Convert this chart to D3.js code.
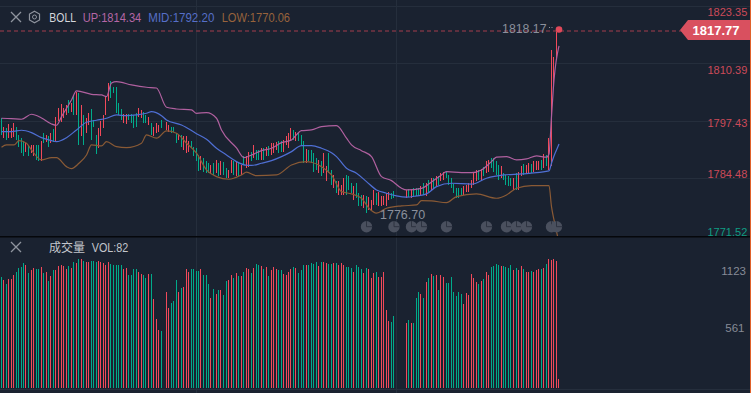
<!DOCTYPE html>
<html>
<head>
<meta charset="utf-8">
<script src="https://d3js.org/d3.v7.min.js"></script>
<style>
  html, body { margin: 0; padding: 0; background: #1a2230; overflow: hidden; }
  svg { display: block; font-family: "Liberation Sans", Arial, sans-serif; }
</style>
</head>
<body>
<svg id="chart" width="751" height="393"></svg>
<script>
// candle range per bar (null = no bar drawn)
const candleHigh = [
  1798.0,1796.1,1795.8,1796.7,1795.9,1797.0,1796.1,1794.3,1793.5,1792.8,
  1792.4,1792.0,1792.0,1792.0,1791.9,1791.9,1792.9,1794.6,1794.3,1793.9,
  1794.6,1795.5,1798.4,1800.3,1801.2,1800.3,1801.0,1802.1,1801.4,1803.3,
  1804.0,1803.6,1801.0,1798.8,1798.0,1799.1,1800.1,1797.6,1794.3,1795.8,
  1797.3,1798.8,1802.7,1806.0,1806.3,1805.1,1805.1,1801.4,1800.1,1799.0,
  1798.9,1799.0,1799.0,1798.8,1799.1,1800.3,1799.9,1799.4,1798.8,1798.4,
  1796.9,1796.1,1796.9,1796.5,1797.6,null,1797.1,1796.5,1796.1,1796.1,
  1794.6,1794.5,1794.3,1793.9,1793.9,1792.8,1792.8,1791.6,1791.3,1789.8,
  1789.4,1789.0,1788.3,1787.9,1787.5,1787.9,1788.6,1787.9,1788.3,1788.1,
  1786.8,1786.4,1788.6,1788.3,1788.3,1787.9,1787.5,1789.4,1789.4,1790.5,
  1790.5,1792.0,1790.9,1790.9,1791.3,1791.3,1791.6,1791.8,1792.4,1792.4,
  1792.6,1792.8,1792.9,1793.2,1793.9,1794.6,1795.8,1795.4,1794.8,1794.6,
  1794.3,1792.8,1791.1,1790.9,1790.9,1790.1,1789.0,1788.7,1788.3,1790.1,
  1787.2,1790.1,1786.4,1785.3,1783.8,1783.8,1783.0,1784.5,1785.3,1784.9,
  1783.4,1782.7,1783.4,1781.2,1780.8,1780.8,1780.4,1780.2,1779.7,1781.9,
  1781.2,1781.5,1780.5,1780.5,1781.2,1781.3,1781.2,1781.7,null,null,
  null,null,1781.9,1782.1,1782.1,1782.3,1782.3,1782.3,1782.7,1783.4,
  1783.4,1784.2,1784.5,1784.5,1784.9,1784.9,1785.6,1786.0,1785.8,1785.3,
  1784.5,1783.2,1782.3,1782.3,1782.3,1782.7,1783.0,1783.4,1784.2,1785.6,
  1786.3,1786.4,1786.6,1787.0,1788.3,1788.7,1789.0,1789.0,1788.3,1787.5,
  1787.2,1785.6,1785.3,1784.9,1784.5,1784.5,1785.6,1786.0,1787.2,1787.8,
  1787.5,1787.9,1787.8,1788.3,1788.3,1788.3,1788.7,1790.0,1789.8,1793.5,
  1813.3,1811.9,1818.17,1817.9
];
const candleLow = [
  1794.3,1793.5,1793.1,1793.5,1793.5,1793.7,1793.1,1791.6,1790.1,1789.6,
  1790.5,1789.4,1790.1,1789.4,1788.6,1788.3,1788.3,1792.4,1792.6,1791.6,
  1792.4,1792.6,1792.6,1797.3,1797.1,1798.0,1798.8,1799.1,1799.5,1798.8,
  1798.8,1792.0,1793.9,1792.0,1794.6,1796.5,1793.1,1796.1,1790.0,1791.3,
  1793.9,1795.8,1798.8,1801.8,1802.5,1803.6,1799.1,1798.8,1797.6,1796.9,
  1796.7,1797.6,1796.9,1795.8,1796.1,1798.4,1798.0,1796.9,1796.9,1796.4,
  1794.3,1793.9,1794.6,1795.0,1795.8,null,1795.4,1795.0,1794.6,1795.0,
  1792.4,1793.1,1791.6,1790.9,1790.1,1790.5,1791.3,1789.4,1788.3,1786.2,
  1786.4,1786.0,1785.6,1785.6,1785.6,1785.3,1785.6,1784.9,1785.3,1785.3,
  1784.5,1784.5,1785.6,1785.3,1784.9,1784.9,1785.3,1787.5,1786.8,1787.1,
  1788.3,1789.0,1788.6,1788.6,1788.6,1788.6,1789.4,1789.5,1789.8,1790.1,
  1790.9,1790.1,1790.5,1790.5,1792.0,1791.3,1793.2,1793.2,1792.9,1792.8,
  1792.0,1787.9,1787.9,1788.3,1787.9,1786.0,1786.4,1785.7,1784.9,1785.7,
  1783.8,1785.7,1783.0,1782.3,1781.2,1780.8,1780.8,1780.8,1780.8,1781.9,
  1781.2,1779.7,1780.0,1778.2,1778.2,1777.8,1776.7,1777.4,1777.4,1778.5,
  1778.5,1778.2,1778.3,1778.5,1778.2,1779.7,1779.8,1780.0,null,null,
  null,null,1780.0,1780.2,1780.0,1780.2,1780.4,1780.5,1780.8,1780.8,
  1780.4,1781.5,1781.9,1782.3,1782.7,1783.0,1783.8,1784.2,1784.5,1783.0,
  1782.3,1781.2,1780.0,1780.0,1780.4,1780.8,1781.5,1781.5,1782.3,1783.0,
  1783.8,1784.2,1784.2,1784.9,1785.6,1786.0,1786.8,1786.0,1785.3,1784.2,
  1784.5,1784.2,1783.0,1782.7,1782.7,1781.9,1781.9,1781.9,1784.9,1785.3,
  1785.6,1785.6,1785.6,1786.0,1786.4,1786.4,1786.4,1786.8,1787.2,1786.4,
  1787.2,1804.8,1811.2,1817.6
];
const volumes = [
  1054,1029,991,1038,1038,1076,1108,1143,1153,1191,
  1172,1095,1124,1143,1133,1133,1153,1095,1105,1019,
  1067,1124,1124,1162,1172,1162,1133,1162,1143,1200,
  1191,1229,1229,1210,1200,1200,1210,1210,1200,1210,
  1200,1191,1172,1200,1181,1172,1172,1172,1172,1133,
  1143,1076,1076,1133,1133,1105,1086,1076,1048,1086,
  1086,848,657,552,543,null,914,762,810,829,
  1029,914,953,962,1133,1105,1133,1133,1114,1114,
  1133,1076,1076,991,857,943,895,933,933,886,
  1019,1029,1076,1048,1095,1067,1067,1105,1143,1133,
  1095,1143,1181,1172,1162,1133,1153,1067,1124,1153,
  1133,1124,
  1121,1086,1076,1105,1133,1153,1143,1095,1124,1172,
  1172,1172,1191,1181,1200,1162,1200,1200,1191,1181,
  1181,1191,1191,1172,1191,1172,1153,1153,1143,1105,
  1172,1153,1133,1095,1143,1133,1048,1095,1105,1057,
  1057,1105,743,638,629,686,null,null,null,null,
  619,648,619,619,857,914,895,857,1010,1048,
  1086,1067,1076,933,1076,1057,1000,1000,1057,914,
  876,914,895,800,905,886,1086,1048,1010,991,
  1019,1038,1105,1076,1153,1162,1181,1172,1162,1162,
  1153,1143,1172,1124,1143,1124,1162,1133,1105,1105,
  1114,1105,1124,1133,1133,1143,1181,1229,1219,1229,
  1210,82
];
// r = up, g = down, . = no bar
const directions = (
  "grgrrrgggg" + "rgrrggrgrg" + "rgrrrrrgrg" + "rgrgrrgggr" + "rrrrgggggr" + "rggggrrggr" +
  "grrrg.rrgg" + "grgrrrgggg" + "rgggrgrgrg" + "grrgrgrgrr" + "grggrgrgrr" + "rg" +
  "grrrrgrggg" + "rggggrgrrg" + "grgrrrgggr" + "gggrgrrrgr" + "rrrrgg...." + "rgrgggrgrg" +
  "rgrgrrgggg" + "gggrrrrrrg" + "rgrrggggrg" + "gggrgrrgrr" + "grrrgrgrrr" + "rr"
).split("");

// bollinger bands: bar index and price at each reading
const upperAt = [0,4,8,12,16,20,22,24,28,30,36,40,42,44,46,52,58,62,66,70,76,78,82,86,88,94,97,100,104,108,112,116,120,124,128,134,138,140,144,148,152,156,160,162,168,172,176,178,184,188,192,196,198,202,206,210,214,218,219,220,221,223];
const upperBand = [1798.01,1797.92,1797.78,1798.91,1798.08,1796.72,1796.43,1798.37,1802.13,1804.16,1803.41,1803.26,1802.87,1805.96,1806.25,1805.51,1804.99,1804.83,1800.49,1800.10,1799.88,1799.13,1799.27,1798.01,1795.37,1791.32,1789.14,1789.74,1790.71,1791.25,1792.51,1793.12,1795.22,1795.37,1796.12,1796.34,1793.51,1792.0,1790.71,1789.36,1784.86,1783.96,1782.24,1781.86,1782.2,1783.66,1785.24,1785.98,1785.76,1785.76,1786.37,1788.24,1789.23,1789.36,1788.62,1788.85,1789.52,1789.23,1789.97,1798.37,1806.63,1814.34];
const midAt = [0,4,8,12,16,20,22,26,30,34,38,42,46,50,54,58,60,64,66,72,78,82,86,90,94,98,100,104,108,112,116,120,124,128,132,134,138,142,146,150,154,158,162,166,170,174,180,188,194,201,208,219,220,221,222,223];
const midBand = [1794.99,1794.99,1795.31,1794.77,1793.64,1792.96,1792.74,1793.64,1795.37,1797.11,1797.56,1798.01,1798.75,1798.59,1798.75,1799.13,1799.50,1798.59,1797.63,1796.50,1794.54,1793.28,1791.25,1789.74,1788.24,1787.42,1787.38,1787.87,1788.46,1789.36,1790.49,1791.84,1791.84,1791.25,1790.26,1789.36,1786.75,1785.62,1783.73,1781.86,1781.12,1780.51,1780.22,1780.51,1780.96,1782.61,1783.37,1783.15,1784.50,1785.24,1785.46,1786.14,1787.88,1789.52,1790.87,1792.20];
const lowerAt = [0,2,5,7,10,12,16,20,22,26,28,31,34,36,40,42,46,50,56,58,62,66,70,74,78,82,86,91,96,98,102,110,116,122,124,128,132,136,140,144,147,150,154,160,166,168,172,178,182,190,198,202,206,212,219,220,221,223];
const lowerBand = [1791.48,1792.0,1792.0,1792.96,1792.38,1790.87,1788.62,1789.14,1789.14,1787.11,1786.66,1787.87,1789.74,1792.0,1791.77,1792.74,1791.61,1791.39,1792.38,1794.25,1793.51,1795.15,1794.63,1792.38,1790.13,1786.37,1784.86,1784.27,1785.24,1785.85,1785.08,1785.24,1787.49,1788.23,1788.10,1787.11,1785.24,1781.48,1780.96,1779.99,1777.74,1776.62,1777.74,1778.26,1778.48,1779.45,1779.38,1779.0,1780.35,1780.96,1779.99,1780.73,1782.25,1782.83,1782.83,1778.10,1775.1,1770.06];

const priceTicks = [1823.35, 1810.39, 1797.43, 1784.48, 1771.52];
const priceTickColors = ["#cc4a59", "#cc4a59", "#cc4a59", "#cc4a59", "#0f9d83"];
const volTicks = [1123, 561];
const eventBars = [146, 157, 164, 168, 178, 194, 202, 206, 210, 220, 222];

const lastPrice = 1817.77, highPrice = 1818.17, lowPrice = 1776.70;
const lastBar = 223, highBar = 222, lowBar = 146;

const red = "#f2495a", green = "#00ab8a";
const gridColor = "#252e3c";

const svg = d3.select("#chart");

// scales ----------------------------------------------------------------------
const x = d3.scaleLinear().domain([0, 223]).range([1.5, 559]);
const y = d3.scaleLinear().domain([1810.39, 1784.48]).range([63.3, 178.3]);
const yVol = d3.scaleLinear().domain([0, 1123]).range([388, 270]);

const bars = candleHigh.map((h, i) => ({
  i, high: h, low: candleLow[i], vol: volumes[i], dir: directions[i]
}));
const barColor = d => d.dir === "r" ? red : green;

svg.append("defs").append("clipPath").attr("id", "pricePane")
  .append("rect").attr("width", 675).attr("height", 236);

// grid ------------------------------------------------------------------------
const grid = svg.append("g").attr("stroke", gridColor).attr("shape-rendering", "crispEdges");
grid.selectAll("line.h").data(priceTicks.slice(0, 4)).enter().append("line")
  .attr("x1", 0).attr("x2", 750)
  .attr("y1", d => Math.round(y(d))).attr("y2", d => Math.round(y(d)));
grid.selectAll("line.v").data([196.5, 396.5]).enter().append("line")
  .attr("x1", d => d).attr("x2", d => d).attr("y1", 0).attr("y2", 393);
grid.append("line").attr("x1", 0).attr("x2", 750).attr("y1", 389.5).attr("y2", 389.5);

// candles ---------------------------------------------------------------------
const plot = svg.append("g").attr("clip-path", "url(#pricePane)");
plot.append("g").attr("shape-rendering", "crispEdges")
  .selectAll("rect").data(bars.filter(d => d.high !== null)).enter().append("rect")
  .attr("x", d => Math.floor(x(d.i) - 0.5))
  .attr("width", 1)
  .attr("y", d => y(d.high))
  .attr("height", d => y(d.low) - y(d.high))
  .attr("fill", barColor);

// bands -----------------------------------------------------------------------
function drawBand(at, values, color) {
  const line = d3.line().x(d => x(d[0])).y(d => y(d[1])).curve(d3.curveMonotoneX);
  plot.append("path").datum(at.map((a, k) => [a, values[k]]))
    .attr("d", line).attr("fill", "none").attr("stroke", color).attr("stroke-width", 1.2);
}
drawBand(upperAt, upperBand, "#b0609f");
drawBand(midAt, midBand, "#4f6fd4");
drawBand(lowerAt, lowerBand, "#8a5a35");

// last price line -------------------------------------------------------------
const lastY = Math.round(y(lastPrice)) - 0.5;
svg.append("line").attr("x1", 0).attr("x2", 684)
  .attr("y1", lastY).attr("y2", lastY)
  .attr("stroke", "#5f2f3e").attr("stroke-width", 2).attr("stroke-dasharray", "4 3")
  .attr("shape-rendering", "crispEdges");

// event markers ---------------------------------------------------------------
const markers = svg.append("g").selectAll("g").data(eventBars).enter().append("g")
  .attr("transform", d => `translate(${x(d)},226.7)`);
markers.append("circle").attr("r", 5.7).attr("fill", "#4a505e");
markers.append("path").attr("d", "M0,-5.7V0H5.7")
  .attr("fill", "none").attr("stroke", "#2a303d").attr("stroke-width", 0.9);

// volume ----------------------------------------------------------------------
svg.append("g").attr("shape-rendering", "crispEdges")
  .selectAll("rect").data(bars.filter(d => d.vol !== null)).enter().append("rect")
  .attr("x", d => Math.floor(x(d.i) - 0.5))
  .attr("width", 1)
  .attr("y", d => yVol(d.vol))
  .attr("height", d => yVol(0) - yVol(d.vol))
  .attr("fill", barColor);

svg.append("rect").attr("x", 0).attr("y", 236).attr("width", 751).attr("height", 1.5).attr("fill", "#05070b");
svg.append("rect").attr("x", 750).attr("y", 0).attr("width", 1).attr("height", 393).attr("fill", "#e0622b");

// high / low / last marks -----------------------------------------------------
svg.append("text").attr("x", 546.5).attr("y", y(highPrice) + 4.5)
  .attr("text-anchor", "end").attr("font-size", 12.3).attr("fill", "#8b909c").text(highPrice.toFixed(2));
svg.append("line").attr("x1", 549).attr("x2", 553).attr("y1", 27.5).attr("y2", 27.5)
  .attr("stroke", "#8b909c").attr("stroke-dasharray", "1 1.5");
svg.append("text").attr("x", 380).attr("y", y(lowPrice) + 6)
  .attr("font-size", 12.5).attr("fill", "#8b909c").text(lowPrice.toFixed(2));
svg.append("circle").attr("cx", x(lastBar)).attr("cy", 29.5).attr("r", 3.3).attr("fill", "#e0495a");

const tagY = 30;
svg.append("polygon")
  .attr("points", [[680, tagY], [688, tagY - 10], [750, tagY - 10], [750, tagY + 10], [688, tagY + 10]].join(" "))
  .attr("fill", "#d9505f");
svg.append("text").attr("x", 692.5).attr("y", tagY + 5).attr("font-size", 13).attr("font-weight", "bold")
  .attr("fill", "#fff").text(lastPrice.toFixed(2));

// axes ------------------------------------------------------------------------
// the price labels sit a little off their grid lines in the original
const labelNudge = [5.5, 5.7, 2, -5, -4];
const priceAxis = svg.append("g").attr("transform", "translate(707.5,0)")
  .call(d3.axisRight(y).tickValues(priceTicks).tickSize(0).tickPadding(0).tickFormat(d3.format(".2f")));
priceAxis.select(".domain").remove();
priceAxis.selectAll("text")
  .attr("font-size", 11).attr("font-family", "inherit")
  .attr("dy", (d, i) => 4 + labelNudge[i])
  .attr("fill", (d, i) => priceTickColors[i]);

const volAxis = svg.append("g").attr("transform", "translate(746,0)")
  .call(d3.axisLeft(yVol).tickValues(volTicks).tickSize(0).tickPadding(0).tickFormat(d3.format("d")));
volAxis.select(".domain").remove();
volAxis.selectAll("text").attr("font-size", 11.5).attr("font-family", "inherit").attr("fill", "#868b96")
  .attr("dx", d => d === 561 ? -1.5 : 0)
  .attr("dy", d => d === 561 ? 2 : 4.5);

// legends ---------------------------------------------------------------------
function closeIcon(cx, cy) {
  svg.append("path")
    .attr("d", `M${cx - 5},${cy - 5}L${cx + 5},${cy + 5}M${cx + 5},${cy - 5}L${cx - 5},${cy + 5}`)
    .attr("stroke", "#8f949e").attr("stroke-width", 1.3).attr("fill", "none");
}
closeIcon(16, 17);
closeIcon(16, 247);
const hexR = 5.8;
svg.append("path")
  .attr("d", d3.line()(d3.range(6).map(k => [34.5 + hexR * Math.sin(k * Math.PI / 3), 17 - hexR * Math.cos(k * Math.PI / 3)])) + "Z")
  .attr("fill", "none").attr("stroke", "#8f949e").attr("stroke-width", 1.2);
svg.append("circle").attr("cx", 34.5).attr("cy", 17).attr("r", 2).attr("fill", "none").attr("stroke", "#8f949e");

const legendText = ["BOLL", "UP:1814.34", "MID:1792.20", "LOW:1770.06"];
const legendColors = ["#d5d7dc", "#b566a6", "#566fc8", "#98633c"];
const legendX = [49.3, 82.7, 148.3, 221.7];
const legendW = [26.7, 58.6, 66, 68.3];
svg.selectAll("text.legend").data(legendText).enter().append("text").attr("class", "legend")
  .attr("x", (d, i) => legendX[i]).attr("y", 22).attr("font-size", 12.5)
  .attr("textLength", (d, i) => legendW[i]).attr("lengthAdjust", "spacingAndGlyphs")
  .attr("fill", (d, i) => legendColors[i]).text(d => d);

svg.append("text").attr("x", 49).attr("y", 252).attr("font-size", 12)
  .attr("font-family", '"Noto Sans CJK SC"').attr("fill", "#c3c6cc").text("成交量");
svg.append("text").attr("x", 91.7).attr("y", 252).attr("font-size", 12.5)
  .attr("textLength", 36.6).attr("lengthAdjust", "spacingAndGlyphs")
  .attr("fill", "#c3c6cc").text("VOL:82");
</script>
</body>
</html>
